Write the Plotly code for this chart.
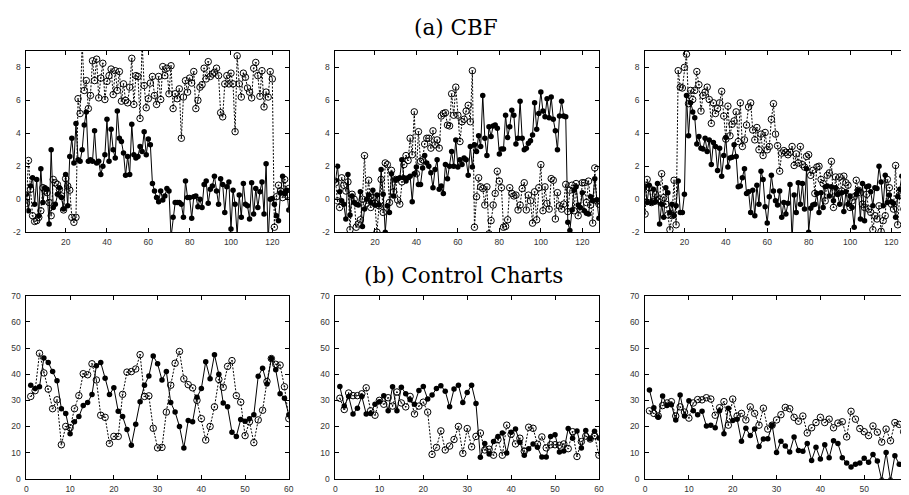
import plotly.graph_objects as go

# ---------------- data ----------------
cbf_a_filled = [0.3, -0.7, 0.8, 1.3, -0.3, 1.2, -1.0, 1.85, -0.2, 0.7, 0.6, -1.5, 3.0, -0.5, -0.3, 0.3,
                0.7, 0.1, -0.6, 1.5, -0.4, 2.6, 3.7, 2.2, 4.6, 2.4, 2.3, 3.0, 4.5, 5.3, 2.3, 2.4,
                2.3, 4.15, 2.2, 2.3, 1.5, 2.0, 2.7, 4.85, 2.3, 4.25, 3.0, 2.5, 5.35, 3.7, 3.5, 2.8,
                1.45, 2.6, 1.5, 4.55, 2.7, 2.5, 2.6, 3.2, 2.9, 4.1, 2.7, 3.65, 3.3, 0.95, 0.5, 0.1,
                -0.15, 0.5, -0.05, 0.2, 0.65, 0.5, -2.3, -1.1, -0.2, -0.2, -0.2, -0.3, -1.1, 1.1, 0.1, 0.1,
                -1.15, 0.15, 0.2, -0.45, 0.0, -0.5, 0.9, 1.1, -0.25, 0.6, 0.8, 1.4, 0.5, -0.3, 1.25, 0.9,
                -0.8, 0.75, 1.05, -1.8, 0.55, -0.3, -2.2, 0.25, -1.1, 0.95, -0.3, -0.4, -1.2, 1.0, -0.9, 0.65,
                -0.5, 0.45, 1.05, -0.9, 2.15, -2.5, 0.0, 0.05, -0.3, -1.0, -1.3, 0.4, 1.4, 0.35, 0.55, -0.65]
cbf_a_open = [-0.25, 2.35, 0.6, -1.0, -1.35, -1.3, -1.1, -0.7, 0.7, 0.5, 0.4, -0.2, -1.0, 1.2, 1.0, 0.9,
              0.6, 0.2, -0.65, 1.25, 0.8, 0.55, -1.1, -1.4, -1.1, 6.1, 5.2, 9.5, 6.6, 7.2, 5.5, 6.3,
              8.4, 7.2, 8.5, 6.15, 7.35, 8.25, 6.05, 7.15, 7.5, 7.9, 6.35, 7.8, 6.6, 7.75, 5.95, 7.0,
              6.0, 5.85, 6.8, 8.55, 5.75, 7.5, 7.45, 4.9, 9.5, 6.9, 5.55, 6.1, 7.05, 7.45, 6.3, 5.75,
              7.45, 6.05, 8.05, 7.5, 7.95, 6.4, 8.1, 5.5, 6.4, 6.1, 6.7, 3.7, 6.2, 7.2, 6.5, 7.35,
              7.05, 7.75, 5.5, 6.0, 6.8, 6.95, 7.95, 7.3, 8.35, 7.45, 7.6, 7.7, 7.95, 7.5, 5.25, 5.0,
              7.0, 7.5, 7.0, 7.65, 7.0, 4.1, 8.7, 7.0, 6.2, 7.65, 7.4, 6.75, 6.5, 6.15, 7.95, 8.3,
              7.5, 6.25, 7.8, 5.6, 6.5, 6.2, 7.75, 7.3, -1.7, 0.15, 0.85, 0.5, 0.1, 1.2, 0.25, 0.65]

cbf_b_filled = [1.15, 2.0, 0.45, -0.1, -0.3, -1.2, 1.5, -0.95, 0.2, -0.2, -0.3, -0.35, 0.45, -1.65, -0.6, 0.0,
                0.25, -0.2, 0.55, -0.35, 0.25, -0.35, 1.8, 0.3, -2.0, -0.4, -0.8, 1.55, 0.2, 1.2, 1.25, 1.3,
                2.4, 1.3, 1.1, 1.3, 1.4, -0.15, 1.55, 1.95, 0.9, 0.9, 1.9, 2.65, 2.2, 2.0, 1.6, 0.7,
                1.8, 2.4, 0.6, 0.8, 0.35, 2.1, 1.25, 2.0, 2.9, 2.0, 3.6, 1.95, 2.4, 2.1, 2.5, 2.4,
                1.45, 3.2, 1.95, 3.3, 2.9, 3.85, 3.2, 6.3, 3.7, 2.65, 4.4, 3.8, 4.45, 4.5, 4.3, 2.75,
                3.05, 3.05, 5.1, 3.75, 4.4, 5.4, 5.1, 3.35, 3.7, 5.95, 3.7, 3.0, 3.1, 3.4, 3.55, 3.9,
                5.85, 4.25, 5.2, 6.5, 5.35, 5.0, 6.1, 4.95, 6.2, 4.85, 4.15, 3.0, 5.05, 5.95, 5.05, 5.0,
                -1.4, -1.9, -0.65, 0.55, 0.75, -0.35, -0.5, 0.4, -0.7, -0.85, -0.9, 0.15, -0.1, 1.25, -0.05, -1.15]
cbf_b_open = [1.0, -0.1, -0.5, 1.3, 0.85, 0.5, 1.05, -1.85, 0.3, 0.0, -1.7, -1.5, -1.25, 0.0, 2.65, -0.25,
              1.15, -0.5, 0.1, -0.25, -2.0, -0.4, 1.2, -0.8, 2.2, 2.1, -0.2, 1.75, 0.45, 1.2, -0.05, -0.3,
              1.05, 2.1, 2.65, 2.35, 3.7, 2.7, 5.3, 1.55, 4.1, 2.3, 2.4, 3.35, 3.7, 3.7, 3.1, 4.15,
              3.3, 3.6, 3.1, 5.05, 5.2, 5.25, 4.5, 4.45, 6.4, 5.1, 6.8, 5.1, 3.5, 4.7, 4.85, 5.35,
              5.7, 4.7, 7.8, -1.7, 0.15, 1.3, 0.75, 0.65, -0.35, 0.75, -2.1, -1.3, -0.35, 0.35, 1.7, 1.1,
              0.7, -1.7, -1.65, -1.25, 0.7, 0.35, 0.2, 0.25, -0.65, -0.35, 0.65, 1.0, -0.65, 0.25, -0.1, -1.45,
              0.45, -1.25, 0.7, 2.1, -0.7, 0.75, -0.25, -0.6, 1.25, 1.15, -1.2, 0.4, -0.4, -0.6, -0.3, 0.9,
              -0.75, 0.55, 0.85, -0.7, 0.95, -1.0, -0.6, 1.0, 1.0, -0.2, 1.1, -0.35, -1.45, 1.9, -0.1, -0.3]

cbf_c_filled = [0.8, -0.2, 0.85, -0.2, 0.6, -0.15, 0.95, -1.5, -0.3, -1.1, 0.7, 0.4, -0.8, -0.3, -1.0, -0.4,
                1.1, -0.8, -0.8, 0.3, 6.3, 3.85, 5.85, 5.3, 4.95, 3.35, 3.8, 3.1, 3.05, 3.7, 2.9, 3.6,
                2.1, 3.45, 3.2, 1.75, 3.1, 1.4, 2.65, 3.75, 1.95, 2.5, 2.55, 3.3, 2.6, 0.75, 0.8, 1.3,
                1.85, 0.35, 0.45, -0.8, 0.55, -1.0, 0.85, -0.3, 1.7, 1.2, -0.45, -1.45, 0.15, 1.45, 0.5, -0.1,
                -0.35, 0.5, -1.1, -0.2, -0.9, -0.25, 0.9, -2.5, 0.25, -0.8, 1.0, -0.3, 0.95, -0.6, 1.85, -2.0,
                -0.55, -0.35, -0.3, 0.35, -0.8, 0.4, -0.5, 0.75, 0.8, 0.2, 0.75, -0.1, 0.7, 0.3, -0.3, 0.4,
                -0.75, 0.45, -0.3, 0.2, -0.5, -1.7, 0.3, 0.55, -1.2, 0.95, -1.3, 0.75, 0.8, 0.45, -0.4, 0.7,
                0.65, 2.0, 1.05, -0.4, 1.45, -0.2, 0.25, -0.15, -0.25, -1.1, 0.15, 0.6, 1.4, -0.55, -2.2, 0.3]
cbf_c_open = [-0.9, 1.2, 0.7, -0.2, -0.15, 0.3, -0.1, 0.0, 1.55, 0.1, -0.3, -0.95, -1.85, -1.0, 1.15, -1.55,
              7.8, 6.8, 6.75, 8.0, 8.8, 5.8, 6.6, 6.05, 6.6, 7.75, 6.95, 5.35, 6.3, 6.5, 6.8, 6.05,
              4.6, 5.85, 5.2, 5.5, 5.85, 6.55, 5.05, 3.65, 5.65, 3.85, 4.55, 4.75, 5.3, 3.5, 5.85, 3.2,
              3.6, 4.5, 5.6, 5.85, 4.2, 3.6, 4.35, 3.0, 3.95, 2.65, 4.05, 3.0, 3.2, 4.85, 5.8, 3.95,
              3.25, 1.7, 2.8, 2.95, 2.85, 2.7, 2.85, 3.2, 2.05, 2.75, 2.2, 3.2, 2.1, 1.95, 2.6, 2.7,
              1.45, 1.75, 0.35, 1.95, 2.0, 1.2, 0.95, -0.1, 1.45, 1.6, 2.3, -0.5, 1.35, 0.35, 1.35, 0.5,
              1.4, 1.0, 0.85, -0.5, -0.1, 0.15, 1.15, 0.55, 0.4, -0.3, -0.5, 0.3, -0.6, -0.8, -1.85, -1.0,
              -1.2, -0.4, -1.95, -1.3, -1.0, 1.2, 0.7, -0.3, -0.6, 2.05, -1.55, 0.25, 0.2, -0.6, 1.4, 0.3]

cc_a_filled = [35.8, 34.5, 35.2, 46.2, 44.5, 41.0, 37.5, 26.8, 25.0, 17.2, 21.8, 23.8, 28.0, 29.2, 32.2,
               43.2, 44.5, 38.5, 32.2, 34.8, 25.8, 23.8, 18.8, 12.8, 20.8, 29.5, 35.8, 39.3, 47.0, 44.0,
               37.8, 41.0, 29.2, 25.5, 20.0, 11.8, 22.3, 21.8, 31.2, 34.5, 44.8, 38.3, 47.5, 40.0, 29.0,
               27.5, 17.8, 16.2, 22.7, 22.0, 23.0, 24.5, 39.2, 42.3, 36.3, 46.0, 41.7, 32.5, 30.8, 24.5]
cc_a_open = [31.5, 33.7, 48.0, 40.5, 34.3, 26.8, 30.2, 13.0, 20.0, 19.5, 26.8, 31.8, 40.2, 39.8, 44.0,
             37.8, 24.3, 23.5, 13.5, 16.2, 16.2, 32.3, 40.8, 41.0, 42.0, 47.5, 31.5, 31.7, 19.3, 11.8,
             12.0, 25.5, 35.8, 44.2, 48.7, 38.2, 36.0, 34.8, 30.0, 23.0, 14.8, 20.0, 27.5, 38.0, 35.0,
             43.0, 45.2, 31.8, 29.3, 16.5, 21.8, 13.8, 22.5, 26.2, 37.2, 46.0, 43.8, 43.5, 35.2, 23.0]

cc_b_filled = [35.3, 27.8, 31.5, 24.8, 27.0, 31.5, 24.8, 25.0, 28.5, 29.5, 31.8, 26.0, 35.2, 26.0, 35.0,
               32.5, 30.2, 28.5, 33.8, 35.3, 30.5, 32.0, 34.5, 35.6, 33.5, 27.5, 34.3, 35.8, 29.2, 33.0,
               35.8, 28.8, 8.2, 13.5, 9.5, 14.2, 16.2, 17.5, 9.8, 17.8, 19.0, 14.0, 9.0, 11.5, 13.3,
               12.0, 8.3, 8.3, 16.2, 16.8, 10.2, 10.6, 19.2, 15.5, 18.3, 11.8, 18.5, 15.3, 18.2, 15.6]
cc_b_open = [30.8, 26.5, 32.8, 31.8, 31.8, 32.5, 34.8, 26.0, 24.3, 30.0, 28.5, 31.0, 27.8, 33.2, 29.0,
             27.5, 31.5, 24.8, 27.8, 29.3, 25.5, 9.3, 12.0, 18.3, 11.0, 12.5, 15.0, 20.0, 9.7, 19.2,
             12.2, 16.2, 17.5, 11.0, 11.3, 9.0, 15.0, 9.0, 20.5, 17.0, 13.3, 15.5, 10.5, 19.7, 19.3,
             13.2, 16.0, 11.8, 13.0, 13.0, 12.8, 13.3, 11.5, 18.0, 8.5, 14.2, 16.3, 15.2, 16.5, 9.0]

cc_c_filled = [34.0, 27.2, 23.5, 31.7, 28.0, 28.3, 22.5, 32.0, 24.0, 29.8, 26.0, 24.5, 25.8, 20.2, 20.5,
               19.5, 26.0, 17.2, 27.0, 22.3, 22.8, 14.3, 19.3, 16.5, 19.0, 12.3, 15.2, 15.3, 20.5, 10.0,
               14.3, 12.5, 10.2, 16.0, 10.8, 10.5, 13.5, 7.0, 12.0, 7.5, 13.0, 8.0, 14.5, 13.5, 8.0,
               6.0, 4.5, 5.5, 6.0, 7.8, 6.3, 9.3, 6.8, -0.5, 10.0, -0.5, 8.8, 5.5, 6.8, 8.0]
cc_c_open = [26.0, 25.0, 24.0, 28.0, 29.0, 29.5, 24.0, 27.5, 25.5, 23.2, 29.0, 30.3, 30.2, 31.0, 30.5,
             24.3, 27.2, 29.5, 20.5, 30.5, 24.0, 25.0, 22.5, 27.5, 25.0, 20.5, 27.0, 19.0, 20.5, 22.5,
             24.5, 27.3, 26.8, 23.5, 22.0, 24.0, 17.5, 19.5, 21.5, 23.5, 21.5, 22.8, 19.5, 21.3, 21.8,
             16.0, 25.8, 22.8, 19.2, 18.0, 16.5, 20.2, 17.8, 14.0, 19.0, 14.5, 21.5, 20.8, 18.0, 17.5]

cbf_title = "(a) CBF"
cc_title = "(b) Control Charts"
cbf_yticks = [-2, 0, 2, 4, 6, 8]
cbf_xticks = [20, 40, 60, 80, 100, 120]
cc_yticks = [0, 10, 20, 30, 40, 50, 60, 70]
cc_xticks = [0, 10, 20, 30, 40, 50, 60]

# ---------------- layout geometry ----------------
# The page places the figure 8px from the top-left corner (body margin),
# so figure coordinates = window coordinates - 8.
OFF = 8
W, H = 909, 495
col_px = [(24.5, 289.0), (336.0, 601.5), (648.0, 913.0)]
row_px = [(46.7, 231.7), (296.7, 483.3)]

panels = [
    (cbf_a_filled, cbf_a_open, 0, 0),
    (cbf_b_filled, cbf_b_open, 0, 1),
    (cbf_c_filled, cbf_c_open, 0, 2),
    (cc_a_filled, cc_a_open, 1, 0),
    (cc_b_filled, cc_b_open, 1, 1),
    (cc_c_filled, cc_c_open, 1, 2),
]

fig = go.Figure()
tick_font = dict(family="Liberation Sans, Arial, sans-serif", size=8.5, color="#333333")

for i, (filled, opened, r, c) in enumerate(panels):
    n = i + 1
    xa = "x" if n == 1 else f"x{n}"
    ya = "y" if n == 1 else f"y{n}"
    xs_f = list(range(1, len(filled) + 1))
    xs_o = list(range(1, len(opened) + 1))
    fig.add_trace(go.Scatter(
        x=xs_o, y=opened, xaxis=xa, yaxis=ya, mode="lines+markers",
        line=dict(color="black", width=1, dash="2px,1.5px"),
        marker=dict(symbol="circle-open-dot", size=6.5, color="black", line=dict(width=1, color="black")),
        showlegend=False, hoverinfo="skip"))
    fig.add_trace(go.Scatter(
        x=xs_f, y=filled, xaxis=xa, yaxis=ya, mode="lines+markers",
        line=dict(color="black", width=1),
        marker=dict(symbol="circle", size=5.5, color="black"),
        showlegend=False, hoverinfo="skip"))

    x0, x1 = col_px[c]
    y0, y1 = row_px[r]
    xdom = [(x0 - OFF) / W, (x1 - OFF) / W]
    ydom = [1 - (y1 - OFF) / H, 1 - (y0 - OFF) / H]
    if r == 0:
        xrange_, yrange_ = [1, 128], [-2, 9]
        xt, yt = cbf_xticks, cbf_yticks
    else:
        xrange_, yrange_ = [0, 60], [0, 70]
        xt, yt = cc_xticks, cc_yticks

    common = dict(showgrid=False, zeroline=False, showline=True, linecolor="black", linewidth=1,
                  ticks="inside", ticklen=4, tickwidth=1, tickcolor="black", tickfont=tick_font)
    fig.layout[f"xaxis{'' if n == 1 else n}"] = dict(
        domain=xdom, range=xrange_, anchor=ya, tickmode="array", tickvals=xt,
        ticktext=[str(v) for v in xt], mirror="ticks", ticklabelstandoff=2, **common)
    fig.layout[f"yaxis{'' if n == 1 else n}"] = dict(
        domain=ydom, range=yrange_, anchor=xa, tickmode="array", tickvals=yt,
        ticktext=[str(v) for v in yt], mirror="ticks", ticklabelstandoff=3, **common)

title_font = dict(family="DejaVu Serif, serif", size=21.5, color="black")
fig.add_annotation(text=cbf_title, x=(457 - OFF) / W, y=1 - (22.5 - OFF) / H, xref="paper", yref="paper",
                   showarrow=False, font=title_font, xanchor="center", yanchor="middle")
fig.add_annotation(text=cc_title, x=(465 - OFF) / W, y=1 - (276 - OFF) / H, xref="paper", yref="paper",
                   showarrow=False, font=title_font, xanchor="center", yanchor="middle")

fig.update_layout(width=W, height=H, margin=dict(l=0, r=0, t=0, b=0),
                  paper_bgcolor="white", plot_bgcolor="white")

fig.write_html("out.html")
